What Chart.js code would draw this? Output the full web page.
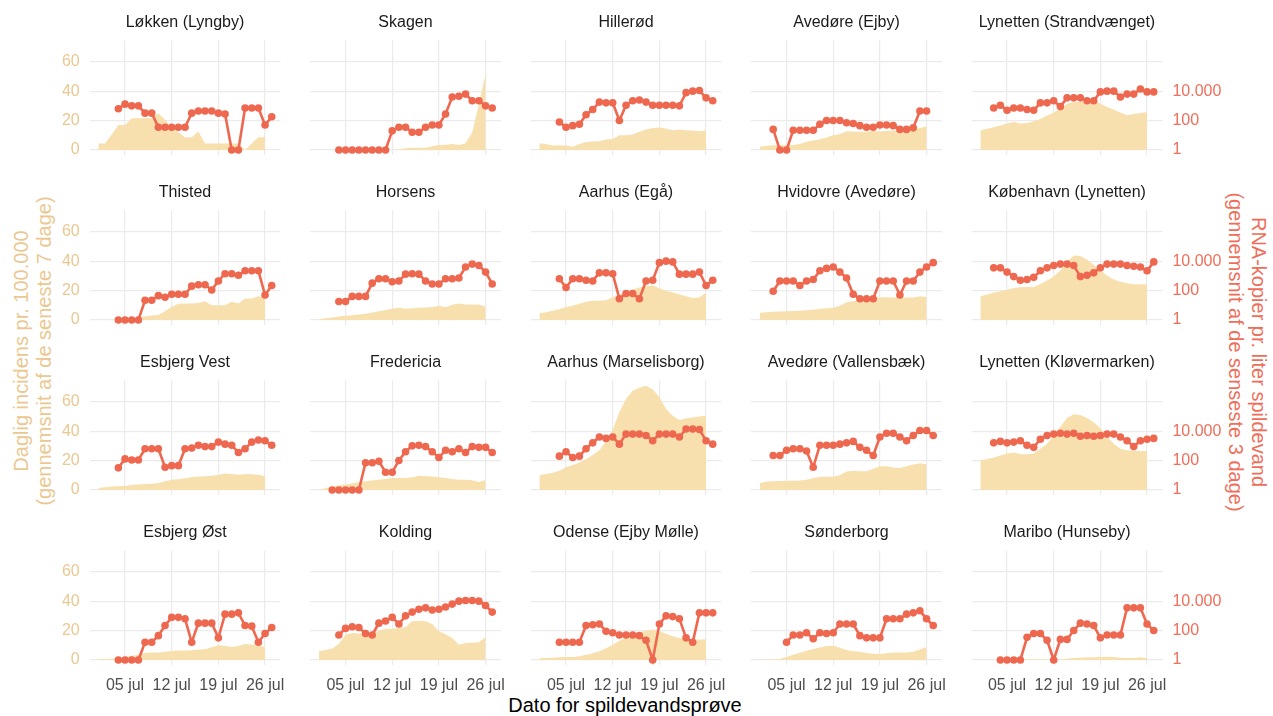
<!DOCTYPE html>
<html>
<head>
<meta charset="utf-8">
<script src="https://cdn.jsdelivr.net/npm/chart.js@4.4.1/dist/chart.umd.min.js"></script>
<style>
html,body{margin:0;padding:0;background:#ffffff;}
#wrap{position:relative;width:1273px;height:716px;overflow:hidden;font-family:"Liberation Sans",Arial,sans-serif;}
#wrap canvas{position:absolute;}
.axtitle{position:absolute;white-space:nowrap;text-align:center;font-size:20px;line-height:23px;}
</style>
</head>
<body>
<div id="wrap">
  <div class="axtitle" id="ltitle" style="left:33px;top:351px;color:#EBC891;transform:translate(-50%,-50%) rotate(-90deg);">Daglig incidens pr. 100.000<br>(gennemsnit af de seneste 7 dage)</div>
  <div class="axtitle" id="rtitle" style="left:1247px;top:352px;color:#EF6E5A;transform:translate(-50%,-50%) rotate(90deg);">RNA-kopier pr. liter spildevand<br>(gennemsnit af de senseste 3 dage)</div>
  <div class="axtitle" id="xtitle" style="left:625px;top:705px;color:#000;transform:translate(-50%,-50%);">Dato for spildevandsprøve</div>
</div>
<script>
// ---- data ----
const stations = [
  "Løkken (Lyngby)", "Skagen", "Hillerød", "Avedøre (Ejby)", "Lynetten (Strandvænget)",
  "Thisted", "Horsens", "Aarhus (Egå)", "Hvidovre (Avedøre)", "København (Lynetten)",
  "Esbjerg Vest", "Fredericia", "Aarhus (Marselisborg)", "Avedøre (Vallensbæk)", "Lynetten (Kløvermarken)",
  "Esbjerg Øst", "Kolding", "Odense (Ejby Mølle)", "Sønderborg", "Maribo (Hunseby)"
];
// day of July for incidence values (1 jul .. 26 jul)
const incidenceDays = [1,2,3,4,5,6,7,8,9,10,11,12,13,14,15,16,17,18,19,20,21,22,23,24,25,26];
// first sampling day (day of July) of each station's RNA series
const rnaStartDay = [4,4,4,3,3, 4,4,4,3,3, 4,3,4,3,3, 4,4,4,5,4];

// daily incidence per 100.000 (7-day average)
const incLokken = [4.4,4.4,10.5,17,17,21.5,21.5,21.5,21.5,25,20.5,15.5,12,8.7,8.7,12.5,4.4,4.4,4.4,4.4,4.4,4.4,0,4.4,8.7,8.7];
const incSkagen = [0,0,0,0,0,0,0,0,0,0,0,0,0.3,1.2,1.6,1.6,1.6,2.5,3.4,3.6,4,3.4,4.5,12,31,52];
const incHillerod = [4.5,4,3,3.3,2.8,2.2,4,5.4,5.8,6,7.2,7.5,10,10,10.5,12.4,14,15,15.3,14.6,13.5,13.9,13.5,13.2,12.8,13.5];
const incAvedoreEjby = [2.2,2.9,3.2,3.4,3.2,3.4,4,5.6,6.5,7.3,8.5,10,10.8,12.8,12.6,12.4,12.4,13,12.6,13,13,13,13.1,14,15,16.2];
const incLynettenStrand = [13.5,14.4,15.5,16.6,18,19,18,18.1,19.5,21,23.5,25.5,28,31.5,32.6,32.6,33.5,34,31.5,29.2,27.5,25.5,23.6,24.5,25.2,25.8];
const incThisted = [0,0,0,0,0,0,1.5,2.5,3,3.4,6,9,11,11.2,11.2,11.5,12.8,10,10,10,12.4,11.2,14.6,14.6,16.2,15.3];
const incHorsens = [0.7,1.2,1.7,2.3,2.8,3.3,3.8,4.3,5.1,6,6.8,7.6,8.3,7.6,7.9,8.3,8.5,8.8,9.7,8.6,10.4,11.2,10.6,10.6,10.5,9];
const incAarhusEga = [4.5,5.2,6.2,7.3,8.8,9.6,11,12.4,13,13,13.5,15.5,17.1,19,20.8,22,22.9,23.6,21.5,19.8,18.6,17.5,16.2,15,15.5,18.4];
const incHvidovre = [4.9,5.3,5.6,5.8,5.9,6.1,6.3,6.6,7,7.6,8,8.3,9.7,12,12.8,13.5,13.9,14.8,15.5,15.5,15.3,15.3,15.3,15.3,16.2,15.7];
const incKobenhavn = [16.2,17.3,18.5,19.6,20.6,21.8,22.3,22.5,22.5,24.5,26.8,29.5,33.7,39.5,43.8,43.5,41,37.5,33.7,30,27.6,26,24.9,24.3,24.3,24.3];
const incEsbjergVest = [1.4,1.9,2.3,2.5,2.7,3.6,3.8,4,4.3,4.7,6,6.9,7.3,8,8.7,9.2,9.3,9.6,10.2,11.2,10.8,10.4,10.8,10.7,10.4,9.3];
const incFredericia = [0.2,1.2,2.2,3,3.8,4.5,5.3,6,6.5,6.9,7.5,8.1,8.1,8.1,8.6,9.7,9.5,9.1,8.6,8.1,7.5,7,7,6.6,5.4,6.8];
const incAarhusMarselisborg = [10.1,10.8,11.7,13,15.5,17,18.6,21,23.7,27,33,41,53,62,67.5,69.5,70.8,68.5,63,55,50.5,47.5,48.8,49.3,50,50.6];
const incAvedoreVallensbaek = [4.5,5.8,6,6.1,6.2,6.3,6.5,7,8.2,9,9,9,10,12.5,13,12.8,12.8,14.5,16.2,16.2,15.3,15,16.2,17.4,18.2,17.5];
const incLynettenKlover = [20.2,21,22,23.5,24.8,25.5,24.3,24.3,24.8,28,31.5,37,43,49,51.5,51,49,46,42,36.5,31.5,28,27,26.7,26.5,26.5];
const incEsbjergOst = [0.7,0.5,0.8,1.1,2,2.8,3.5,5,5.1,5.1,5.6,6.1,6.4,6.5,6.6,7.1,7.3,8.6,10,9.6,8.9,9.5,10.9,10.5,9.8,8.9];
const incKolding = [6,6.8,7.8,11,17.2,18.4,18,17.8,18.3,19.8,21.1,21.3,21.8,22.5,26.3,26.6,26.4,24.4,19.5,17.5,15,10.4,11.5,11.8,12,15.6];
const incOdense = [1.1,1.3,1.6,1.8,2,2.1,2.5,3.6,4.5,5.9,8,10.3,13,15.3,17.1,18.5,20,20.7,19.5,17.9,16.2,15,14.2,14,14,14];
const incSonderborg = [0.4,0.4,0.4,0.6,2,3.6,4.9,6.2,7.4,8.5,9.5,9.6,8.4,6.8,6,5.6,4.8,4.2,4.1,4.6,5.1,5.1,5.1,5.6,7.2,8.9];
const incMaribo = [0,0,0,0,0,0.2,0.4,0.4,0.4,0.4,0.4,0.4,0.4,0.8,1.3,1.6,1.8,1.9,2.1,2.2,2,1.6,1.3,1.4,1.8,1.1];

// RNA copies per liter (3-day average), daily from rnaStartDay
const rnaLokken = [630,1300,1000,1000,320,320,35,35,35,35,35,320,450,450,450,320,280,1,1,710,710,710,50,180];
const rnaSkagen = [1,1,1,1,1,1,1,1,20,35,35,16,16,35,50,50,280,4000,4500,6300,2200,2200,1000,710];
const rnaHillerod = [79,35,45,56,250,560,1800,1600,1600,100,1100,2200,2500,1800,1100,1100,1100,1100,1000,7900,10000,11000,3500,2200];
const rnaAvedoreEjby = [25,1,1,22,22,22,22,56,100,100,100,71,63,45,35,35,50,50,45,25,25,32,450,450];
const rnaLynettenStrand = [710,1100,500,710,710,560,500,1600,1600,2200,890,3500,3500,3500,2200,2200,8900,10000,10000,4000,6300,6300,14000,8900,8900];
const rnaThisted = [1,1,1,1,22,22,45,35,56,56,56,200,250,250,110,450,1400,1400,1100,2200,2200,2200,50,220];
const rnaHorsens = [18,18,40,40,40,320,630,630,400,450,1300,1400,1300,450,280,280,630,630,710,4000,6300,5000,1800,280];
const rnaAarhusEga = [630,160,630,630,500,450,1600,1600,1400,28,63,63,28,450,500,7900,10000,8900,1300,1300,1300,1800,220,500];
const rnaHvidovre = [89,450,450,450,220,450,560,2200,3200,4000,1800,710,56,28,28,28,450,450,450,50,450,450,1800,4000,7900];
const rnaKobenhavn = [3500,3500,1800,890,500,560,790,2200,3500,5000,6300,6300,5000,890,1100,1600,3500,6300,6300,6300,5000,4500,4000,2200,8900];
const rnaEsbjergVest = [32,130,110,110,630,630,630,35,45,45,630,710,1100,890,890,1800,1300,1100,350,630,1800,2500,2200,1100];
const rnaFredericia = [1,1,1,1,1,71,71,89,16,16,100,400,1000,1100,890,400,160,500,400,630,350,890,790,790,350];
const rnaAarhusMarselisborg = [200,400,160,200,630,1600,4000,3200,4000,1300,6300,6300,6300,5000,2200,6300,6300,6300,4000,14000,14000,13000,2200,1300];
const rnaAvedoreVallensbaek = [220,220,500,630,630,450,35,1100,1100,1100,1300,1600,2000,790,500,220,4000,7100,7100,4000,2200,5000,11000,11000,5000];
const rnaLynettenKlover = [1600,2000,1600,1800,2200,1100,790,2800,5000,6300,7100,6300,7100,4500,5000,4500,5000,6300,6300,4000,2200,890,2200,2800,3200];
const rnaEsbjergOst = [1,1,1,1,16,16,45,220,790,790,630,16,320,320,320,32,1300,1300,1600,220,200,16,63,160];
const rnaKolding = [50,140,180,160,63,50,320,450,790,280,1000,1800,2800,3500,2500,2800,4000,6300,10000,11000,11000,10000,5000,1800];
const rnaOdense = [16,16,16,16,220,250,280,89,71,50,50,50,45,22,1,280,1000,890,630,32,16,1600,1600,1600];
const rnaSonderborg = [16,50,50,71,28,71,63,71,280,280,280,45,32,32,32,630,630,630,1300,1600,2200,630,220];
const rnaMaribo = [1,1,1,1,35,63,63,22,1,25,25,100,320,280,220,32,50,50,50,3500,3500,3500,280,100];

// ticks
const xTickDays = [5,12,19,26];
const xTickLabels = ["05 jul","12 jul","19 jul","26 jul"];
const leftTicks = [0,20,40,60];
const rightTicks = [1,100,10000];
const rightTickLabels = ["1","100","10.000"];

const incidenceSeries = [incLokken,incSkagen,incHillerod,incAvedoreEjby,incLynettenStrand,
  incThisted,incHorsens,incAarhusEga,incHvidovre,incKobenhavn,
  incEsbjergVest,incFredericia,incAarhusMarselisborg,incAvedoreVallensbaek,incLynettenKlover,
  incEsbjergOst,incKolding,incOdense,incSonderborg,incMaribo];
const rnaSeries = [rnaLokken,rnaSkagen,rnaHillerod,rnaAvedoreEjby,rnaLynettenStrand,
  rnaThisted,rnaHorsens,rnaAarhusEga,rnaHvidovre,rnaKobenhavn,
  rnaEsbjergVest,rnaFredericia,rnaAarhusMarselisborg,rnaAvedoreVallensbaek,rnaLynettenKlover,
  rnaEsbjergOst,rnaKolding,rnaOdense,rnaSonderborg,rnaMaribo];

// ---- style ----
const AREA = '#F8E0AE', RED = '#EE6850', TAN = '#EBC891', RED_TXT = '#EF6E5A', GRID = '#EBEBEB';
const FONT = "'Liberation Sans', Arial, sans-serif";
const Y_MIN = -3.54, Y_MAX = 74.34;           // incidence axis range
const X_MIN = -0.3, X_MAX = 28.3;              // day-of-July range
const PLOT_W = 190.7, PLOT_H = 114.6;

const wrap = document.getElementById('wrap');

stations.forEach((name, i) => {
  const r = Math.floor(i / 5), c = i % 5;
  const plotL = 89.7 + 220.5 * c;
  const plotT = 40.6 + 170 * r;
  const cl = Math.floor(plotL) - 70, ct = Math.floor(plotT) - 40;
  const leftW = plotL - cl;
  const cw = Math.round(2 * leftW + PLOT_W), ch = 200;
  const rightW = cw - leftW - PLOT_W;
  const bottomH = ct + ch - (plotT + PLOT_H);
  const cv = document.createElement('canvas');
  cv.width = cw; cv.height = ch;
  cv.style.left = cl + 'px'; cv.style.top = ct + 'px';
  cv.style.width = cw + 'px'; cv.style.height = ch + 'px';
  wrap.appendChild(cv);

  const titlePadTop = 4, titlePadBottom = 8.4, titleLine = 16 * 1.2;
  const titleH = titleLine + titlePadTop + titlePadBottom;

  const inc = incidenceSeries[i];
  const rna = rnaSeries[i];
  const start = rnaStartDay[i];

  new Chart(cv, {
    type: 'line',
    data: {
      datasets: [
        {
          data: incidenceDays.map((d, k) => ({x: d, y: inc[k]})),
          yAxisID: 'y', fill: 'origin', backgroundColor: AREA,
          borderWidth: 0, borderColor: 'rgba(0,0,0,0)', pointRadius: 0, tension: 0, order: 2, clip: false
        },
        {
          data: rna.map((v, k) => ({x: start + k, y: v})),
          yAxisID: 'y2', fill: false, borderColor: RED, backgroundColor: RED,
          borderWidth: 2.6, pointRadius: 3.8, pointBorderWidth: 0, pointBackgroundColor: RED,
          tension: 0, order: 1, clip: false
        }
      ]
    },
    options: {
      responsive: false, animation: false, devicePixelRatio: 1,
      events: [],
      layout: {padding: {left: 0, top: plotT - ct - titleH, right: 0, bottom: 0}},
      plugins: {
        legend: {display: false},
        tooltip: {enabled: false},
        title: {display: true, text: name, color: '#1A1A1A',
          font: {family: FONT, size: 16, weight: 'normal', lineHeight: 1.2},
          padding: {top: titlePadTop, bottom: titlePadBottom}}
      },
      scales: {
        x: {
          type: 'linear', min: X_MIN, max: X_MAX,
          afterBuildTicks: s => { s.ticks = xTickDays.map(v => ({value: v})); },
          afterFit: s => { s.height = bottomH; s.paddingLeft = 0; s.paddingRight = 0; },
          ticks: {display: r === 3, autoSkip: false, maxRotation: 0, minRotation: 0, padding: 11,
            color: '#4D4D4D', font: {family: FONT, size: 16},
            callback: (v, idx) => xTickLabels[idx]},
          grid: {color: GRID, lineWidth: 1.2, drawTicks: false},
          border: {display: false}
        },
        y: {
          type: 'linear', position: 'left', min: Y_MIN, max: Y_MAX,
          afterBuildTicks: s => { s.ticks = leftTicks.map(v => ({value: v})); },
          afterFit: s => { s.width = leftW; s.paddingTop = 0; s.paddingBottom = 0; },
          ticks: {display: c === 0, padding: 10, color: TAN, font: {family: FONT, size: 16},
            callback: v => String(v)},
          grid: {color: GRID, lineWidth: 1.2, drawTicks: false},
          border: {display: false}
        },
        y2: {
          type: 'logarithmic', position: 'right',
          min: Math.pow(10, Y_MIN / 10), max: Math.pow(10, Y_MAX / 10),
          afterBuildTicks: s => { s.ticks = rightTicks.map(v => ({value: v})); },
          afterFit: s => { s.width = rightW; s.paddingTop = 0; s.paddingBottom = 0; },
          ticks: {display: c === 4, padding: 10, color: RED_TXT, font: {family: FONT, size: 16},
            callback: (v, idx) => rightTickLabels[idx]},
          grid: {display: false, drawTicks: false},
          border: {display: false}
        }
      }
    }
  });
});
</script>
</body>
</html>
